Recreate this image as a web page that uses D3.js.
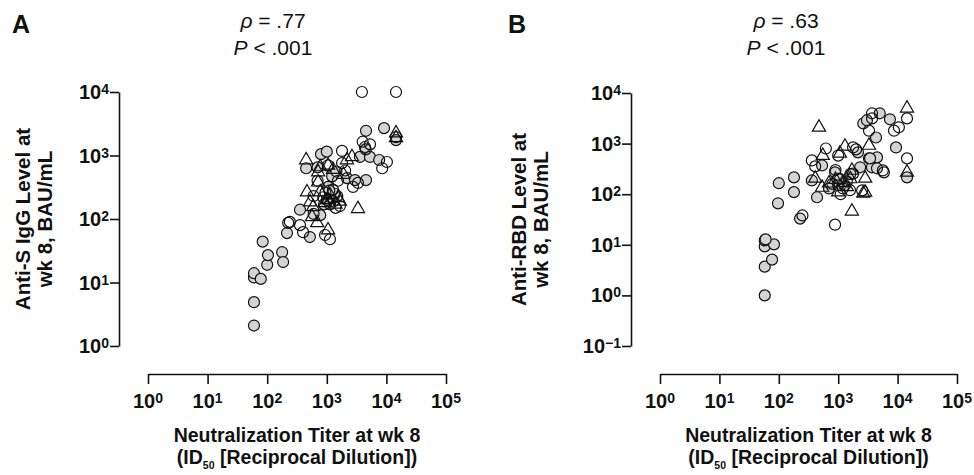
<!DOCTYPE html>
<html>
<head>
<meta charset="utf-8">
<script src="https://cdn.jsdelivr.net/npm/d3@7"></script>
<style>
body { margin: 0; background: #fff; }
text { font-family: Arial, "Liberation Sans", Helvetica, sans-serif; fill: #111; }
</style>
</head>
<body>
<div id="wrapper"></div>
<script>
const width = 974, height = 475;

// exponents for the log ticks
const xTickExp = [0, 1, 2, 3, 4, 5];
const yTickExpA = [0, 1, 2, 3, 4];
const yTickExpB = [-1, 0, 1, 2, 3, 4];

const letters = ["A", "B"];
const rhoText = [".77", ".63"];
const pText = [".001", ".001"];
const yTitleA = ["Anti-S IgG Level at", "wk 8, BAU/mL"];
const yTitleB = ["Anti-RBD Level at", "wk 8, BAU/mL"];

// panel A: [neutralization titer, anti-S IgG]
const aFilled = [[60,2.1],[60,4.9],[60,12],[60,14],[78,11.4],[100,19],[103,27],[84,44],
  [178,30],[185,21],[215,60],[520,52],[355,140],[775,115],[450,630],[800,1050],[1000,1150],
  [1230,470],[2180,440],[2970,410],[4550,410],[1050,320],[1200,220],[1500,230],[3600,950],
  [5300,950],[7560,850],[4550,2450],[9130,2700],[14500,1750],[4370,1360],[1370,250],
  [900,170],[700,650],[1450,560],[600,120],[1100,280]];
const aOpen = [[3880,10000],[14500,10000],[14500,1950],[4000,1650],[5300,1500],[4500,1250],
  [10200,790],[8500,630],[1800,1180],[1800,760],[3330,370],[2750,320],[240,90],[355,80],
  [400,62],[935,56],[1130,48],[225,87],[1000,200],[1130,170],[1300,190],[870,220],[1660,160],
  [1050,700],[1540,400],[2030,580],[1270,290],[700,400],[600,230],[1400,150],[950,260]];
const aTri = [[14500,2250],[14500,1900],[2650,950],[2180,850],[450,850],[775,660],[715,550],
  [1050,700],[715,380],[465,265],[3330,145],[565,108],[690,87],[1050,67],[525,185],[590,155],
  [775,265],[1130,240],[1540,215],[1050,200],[1660,190],[1400,170],[935,180],[1270,600],[1900,500]];

// panel B: [neutralization titer, anti-RBD]
const bFilled = [[58,1.0],[58,3.7],[77,5.1],[58,9.3],[58,12.2],[83,10.2],[60,12.8],[97,66],
  [100,165],[180,215],[180,110],[228,33],[360,187],[440,87],[535,370],[5000,3970],[7430,3020],
  [2640,2500],[3050,2900],[4330,1320],[9400,840],[14400,215],[2150,670],[2340,340],[3300,510],
  [4500,535],[3700,340],[4500,325],[885,270],[3440,510],[1300,150],[1000,200],[700,130],[1600,250]];
const bOpen = [[3710,3970],[3710,3150],[10500,2100],[8700,1800],[14400,3150],[3300,1800],
  [14400,510],[5880,270],[5640,295],[620,800],[1780,840],[2000,770],[360,465],[410,355],
  [1000,580],[2530,119],[885,25],[1780,255],[1070,200],[1000,150],[1200,130],[800,160],
  [1400,180],[1580,120],[1100,100],[250,38],[900,300]];
const bTri = [[475,2100],[14400,5000],[14400,270],[3300,920],[2850,205],[2640,104],[1300,880],
  [550,580],[1070,640],[410,205],[535,136],[2850,109],[1700,46],[1700,295],[1000,110],[1200,170],
  [900,195],[1400,140],[700,165],[1600,200]];

const panels = [
  {letter: letters[0], rho: rhoText[0], p: pText[0], yTitle: yTitleA, yExp: yTickExpA,
   x0: 148, x1: 446, yTop: 92, yBot: 346, axisX: 119, statX: 273, letterX: 12, titleX: 30,
   filled: aFilled, open: aOpen, tri: aTri},
  {letter: letters[1], rho: rhoText[1], p: pText[1], yTitle: yTitleB, yExp: yTickExpB,
   x0: 660, x1: 957, yTop: 93, yBot: 346, axisX: 631, statX: 786, letterX: 508, titleX: 526,
   filled: bFilled, open: bOpen, tri: bTri}
];

const svg = d3.select("#wrapper").append("svg")
  .attr("width", width).attr("height", height)
  .attr("viewBox", [0, 0, width, height]);

function powLabel(t, e) {
  t.append("tspan").text("10");
  t.append("tspan").attr("font-size", 14).attr("dy", -5)
    .text(e < 0 ? "\u2212" + (-e) : e);
}

const xAxisY = 374;

panels.forEach(pn => {
  const g = svg.append("g");
  const x = d3.scaleLog().domain([1, 1e5]).range([pn.x0, pn.x1]);
  const y = d3.scaleLog()
    .domain([Math.pow(10, d3.min(pn.yExp)), Math.pow(10, d3.max(pn.yExp))])
    .range([pn.yBot, pn.yTop]);

  // axes
  const xa = g.append("g").attr("transform", `translate(0,${xAxisY})`)
    .call(d3.axisBottom(x).tickValues(xTickExp.map(e => Math.pow(10, e)))
      .tickFormat("").tickSize(10).tickSizeOuter(0));
  const ya = g.append("g").attr("transform", `translate(${pn.axisX},0)`)
    .call(d3.axisLeft(y).tickValues(pn.yExp.map(e => Math.pow(10, e)))
      .tickFormat("").tickSize(9).tickSizeOuter(0));
  [xa, ya].forEach(a => {
    a.selectAll("path, line").attr("stroke", "#111").attr("stroke-width", 1.6);
  });

  xTickExp.forEach(e => {
    const t = g.append("text").attr("x", x(Math.pow(10, e))).attr("y", 408)
      .attr("text-anchor", "middle").attr("font-size", 20).attr("font-weight", "bold");
    powLabel(t, e);
  });
  pn.yExp.forEach(e => {
    const t = g.append("text").attr("x", pn.axisX - 10).attr("y", y(Math.pow(10, e)) + 7)
      .attr("text-anchor", "end").attr("font-size", 20).attr("font-weight", "bold");
    powLabel(t, e);
  });

  // x title, two lines
  const xc = (pn.x0 + pn.x1) / 2;
  g.append("text").attr("x", xc).attr("y", 442).attr("text-anchor", "middle")
    .attr("font-size", 19.5).attr("font-weight", "bold").text("Neutralization Titer at wk 8");
  const t2 = g.append("text").attr("x", xc).attr("y", 464).attr("text-anchor", "middle")
    .attr("font-size", 19.5).attr("font-weight", "bold");
  t2.append("tspan").text("(ID");
  t2.append("tspan").attr("font-size", 10.5).attr("dy", 5).text("50");
  t2.append("tspan").attr("dy", -5).text(" [Reciprocal Dilution])");

  // y title
  const yc = (pn.yTop + pn.yBot) / 2;
  pn.yTitle.forEach((s, i) => {
    g.append("text")
      .attr("transform", `translate(${pn.titleX + i * 22},${yc}) rotate(-90)`)
      .attr("text-anchor", "middle").attr("font-size", 20.5).attr("font-weight", "bold")
      .text(s);
  });

  // letter + stats
  g.append("text").attr("x", pn.letterX).attr("y", 33).attr("font-size", 25)
    .attr("font-weight", "bold").text(pn.letter);
  const s1 = g.append("text").attr("x", pn.statX).attr("y", 28).attr("text-anchor", "middle")
    .attr("font-size", 21);
  s1.append("tspan").attr("font-style", "italic").text("\u03C1");
  s1.append("tspan").text(" = " + pn.rho);
  const s2 = g.append("text").attr("x", pn.statX).attr("y", 55).attr("text-anchor", "middle")
    .attr("font-size", 21);
  s2.append("tspan").attr("font-style", "italic").text("P");
  s2.append("tspan").text(" < " + pn.p);

  // points: filled circles, open circles, triangles
  g.append("g").selectAll("circle").data(pn.filled).enter().append("circle")
    .attr("cx", d => x(d[0])).attr("cy", d => y(d[1])).attr("r", 5.5)
    .attr("fill", "#d4d4d4").attr("stroke", "#111").attr("stroke-width", 1.2);
  g.append("g").selectAll("circle").data(pn.open).enter().append("circle")
    .attr("cx", d => x(d[0])).attr("cy", d => y(d[1])).attr("r", 5.5)
    .attr("fill", "none").attr("stroke", "#111").attr("stroke-width", 1.2);
  g.append("g").selectAll("path").data(pn.tri).enter().append("path")
    .attr("d", d3.symbol().type(d3.symbolTriangle).size(75))
    .attr("transform", d => `translate(${x(d[0])},${y(d[1])})`)
    .attr("fill", "none").attr("stroke", "#111").attr("stroke-width", 1.2);
});
</script>
</body>
</html>
